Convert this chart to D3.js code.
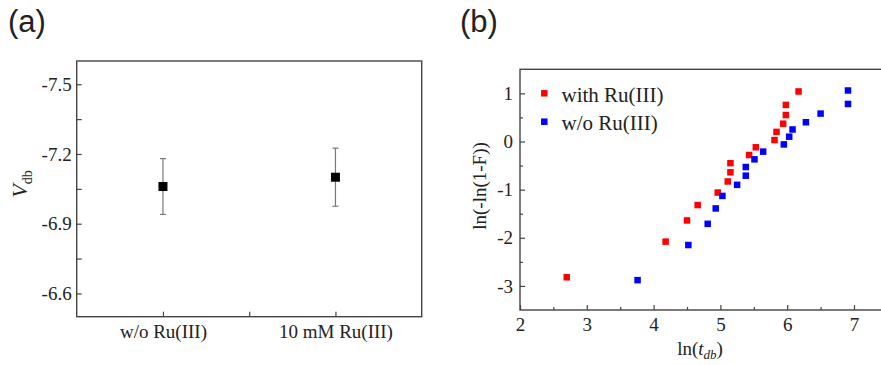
<!DOCTYPE html>
<html><head><meta charset="utf-8">
<script src="https://cdn.jsdelivr.net/npm/d3@7"></script>
<style>
html,body{margin:0;padding:0;background:#fff;overflow:hidden}
svg{display:block}
text{font-family:"Liberation Serif","Times New Roman",serif;fill:#222}
</style></head>
<body>
<svg id="chart" width="881" height="365"></svg>
<script>
// ---- Panel (a) data ----
const aCategories = ["w/o Ru(III)", "10 mM Ru(III)"];
const aValues = [-7.06, -7.10];
const aErrors = [0.12, 0.125];
const aYTicks = [-7.5, -7.2, -6.9, -6.6];
const aYMinor = [-7.35, -7.05, -6.75];

// ---- Panel (b) data ----
const withX = [2.70, 4.18, 4.50, 4.66, 4.96, 5.11, 5.15, 5.15, 5.43, 5.53, 5.81, 5.84, 5.94, 5.98, 5.98, 6.17];
const withY = [-2.82, -2.08, -1.64, -1.32, -1.06, -0.83, -0.64, -0.45, -0.28, -0.12, 0.03, 0.20, 0.37, 0.55, 0.76, 1.04];
const woX = [3.76, 4.52, 4.81, 4.93, 5.03, 5.25, 5.38, 5.38, 5.51, 5.64, 5.95, 6.03, 6.08, 6.28, 6.50, 6.91, 6.91];
const woY = [-2.88, -2.15, -1.71, -1.39, -1.13, -0.90, -0.71, -0.53, -0.37, -0.21, -0.06, 0.10, 0.25, 0.40, 0.58, 0.78, 1.06];
const bXTicks = [2, 3, 4, 5, 6, 7];
const bXMinor = [2.5, 3.5, 4.5, 5.5, 6.5];
const bYTicks = [-3, -2, -1, 0, 1];
const bYMinor = [-2.5, -1.5, -0.5, 0.5];
const legendLabels = ["with Ru(III)", "w/o Ru(III)"];
const seriesColors = ["#ff0000", "#0000ff"];

const svg = d3.select("#chart");
const frameColor = "#444";
const fmt = d => (d < 0 ? "-" : "") + Math.abs(d);

function styleAxis(g) {
  g.select(".domain").remove();
  g.selectAll(".tick line").attr("stroke", frameColor).attr("stroke-width", 1.2);
  g.selectAll(".tick text").style("font-family", '"Liberation Serif","Times New Roman",serif')
    .style("font-size", "19px").attr("fill", "#222");
}

// ================= Panel (a) =================
{
  const L = 76.7, R = 421.7, T = 61, B = 316.7;
  const x = d3.scaleLinear().domain([0.5, 2.5]).range([L, R]);
  const y = d3.scaleLinear().domain([-7.6, -6.5]).range([T, B]);
  const g = svg.append("g");

  g.append("g").attr("transform", `translate(0,${B})`)
    .call(d3.axisBottom(x).tickValues([1, 2]).tickFormat((d, i) => aCategories[i]).tickSizeInner(-5).tickSizeOuter(0).tickPadding(8))
    .call(styleAxis);
  g.append("g").attr("transform", `translate(0,${B})`)
    .call(d3.axisBottom(x).tickValues([1.5]).tickFormat("").tickSizeInner(-5).tickSizeOuter(0))
    .call(styleAxis);
  g.append("g").attr("transform", `translate(${L},0)`)
    .call(d3.axisLeft(y).tickValues(aYTicks).tickFormat(fmt).tickSizeInner(-5).tickSizeOuter(0).tickPadding(5))
    .call(styleAxis);
  g.append("g").attr("transform", `translate(${L},0)`)
    .call(d3.axisLeft(y).tickValues(aYMinor).tickFormat("").tickSizeInner(-5).tickSizeOuter(0))
    .call(styleAxis);

  g.append("rect").attr("x", L).attr("y", T).attr("width", R - L).attr("height", B - T)
    .attr("fill", "none").attr("stroke", frameColor).attr("stroke-width", 1.4);

  const pts = aValues.map((v, i) => ({ x: i + 1, v, e: aErrors[i] }));
  const eg = g.append("g").attr("stroke", "#777").attr("stroke-width", 1.2);
  pts.forEach(p => {
    eg.append("line").attr("x1", x(p.x)).attr("x2", x(p.x)).attr("y1", y(p.v - p.e)).attr("y2", y(p.v + p.e));
    eg.append("line").attr("x1", x(p.x) - 3).attr("x2", x(p.x) + 3).attr("y1", y(p.v - p.e)).attr("y2", y(p.v - p.e));
    eg.append("line").attr("x1", x(p.x) - 3).attr("x2", x(p.x) + 3).attr("y1", y(p.v + p.e)).attr("y2", y(p.v + p.e));
  });
  const s = 9;
  g.selectAll("rect.pt").data(pts).join("rect").attr("class", "pt")
    .attr("x", p => x(p.x) - s / 2).attr("y", p => y(p.v) - s / 2).attr("width", s).attr("height", s).attr("fill", "#000");

  const yl = g.append("text").attr("transform", `translate(27,184) rotate(-90)`).attr("text-anchor", "middle");
  yl.append("tspan").text("V").style("font-style", "italic").style("font-size", "22px");
  yl.append("tspan").text("db").attr("dy", 5).style("font-size", "14px");

  svg.append("text").attr("x", 8).attr("y", 32).text("(a)")
    .style("font-family", '"Liberation Sans",Arial,sans-serif').style("font-size", "31px").attr("fill", "#222");
}

// ================= Panel (b) =================
{
  const L = 520, T = 69.3, B = 310;
  const x = d3.scaleLinear().domain([2, 7.5]).range([L, L + 5.5 * 66.8]);
  const y = d3.scaleLinear().domain([-3.5, 1.5]).range([B, T]);
  const R = x(7.5);
  const g = svg.append("g");

  g.append("g").attr("transform", `translate(0,${B})`)
    .call(d3.axisBottom(x).tickValues(bXTicks).tickFormat(d3.format("d")).tickSizeInner(-5).tickSizeOuter(0).tickPadding(8))
    .call(styleAxis);
  g.append("g").attr("transform", `translate(0,${B})`)
    .call(d3.axisBottom(x).tickValues(bXMinor).tickFormat("").tickSizeInner(-3).tickSizeOuter(0))
    .call(styleAxis);
  g.append("g").attr("transform", `translate(${L},0)`)
    .call(d3.axisLeft(y).tickValues(bYTicks).tickFormat(fmt).tickSizeInner(-5).tickSizeOuter(0).tickPadding(7))
    .call(styleAxis);
  g.append("g").attr("transform", `translate(${L},0)`)
    .call(d3.axisLeft(y).tickValues(bYMinor).tickFormat("").tickSizeInner(-3).tickSizeOuter(0))
    .call(styleAxis);

  g.append("rect").attr("x", L).attr("y", T).attr("width", R - L).attr("height", B - T)
    .attr("fill", "none").attr("stroke", frameColor).attr("stroke-width", 1.4);

  const s = 6.5;
  const series = [
    { xs: withX, ys: withY, c: seriesColors[0] },
    { xs: woX, ys: woY, c: seriesColors[1] }
  ];
  series.forEach(sr => {
    g.append("g").selectAll("rect").data(sr.xs.map((xv, i) => [xv, sr.ys[i]])).join("rect")
      .attr("x", d => x(d[0]) - s / 2).attr("y", d => y(d[1]) - s / 2)
      .attr("width", s).attr("height", s).attr("fill", sr.c);
  });

  // legend
  const lg = g.append("g");
  legendLabels.forEach((lab, i) => {
    const cy = 93.3 + i * 28.4;
    lg.append("rect").attr("x", 544.3 - s / 2).attr("y", cy - s / 2).attr("width", s).attr("height", s).attr("fill", seriesColors[i]);
    lg.append("text").attr("x", 561.5).attr("y", cy + 8.5).text(lab).style("font-size", "21px");
  });

  const yl = g.append("text").attr("transform", `translate(486,186) rotate(-90)`).attr("text-anchor", "middle")
    .style("font-size", "19px").text("ln(-ln(1-F))");

  const xl = g.append("text").attr("x", 700).attr("y", 355).attr("text-anchor", "middle").style("font-size", "19px");
  xl.append("tspan").text("ln(");
  xl.append("tspan").text("t").style("font-style", "italic");
  xl.append("tspan").text("db").style("font-style", "italic").style("font-size", "13px").attr("dy", 4);
  xl.append("tspan").text(")").attr("dy", -4);

  svg.append("text").attr("x", 460).attr("y", 32).text("(b)")
    .style("font-family", '"Liberation Sans",Arial,sans-serif').style("font-size", "31px").attr("fill", "#222");
}
</script>
</body></html>
